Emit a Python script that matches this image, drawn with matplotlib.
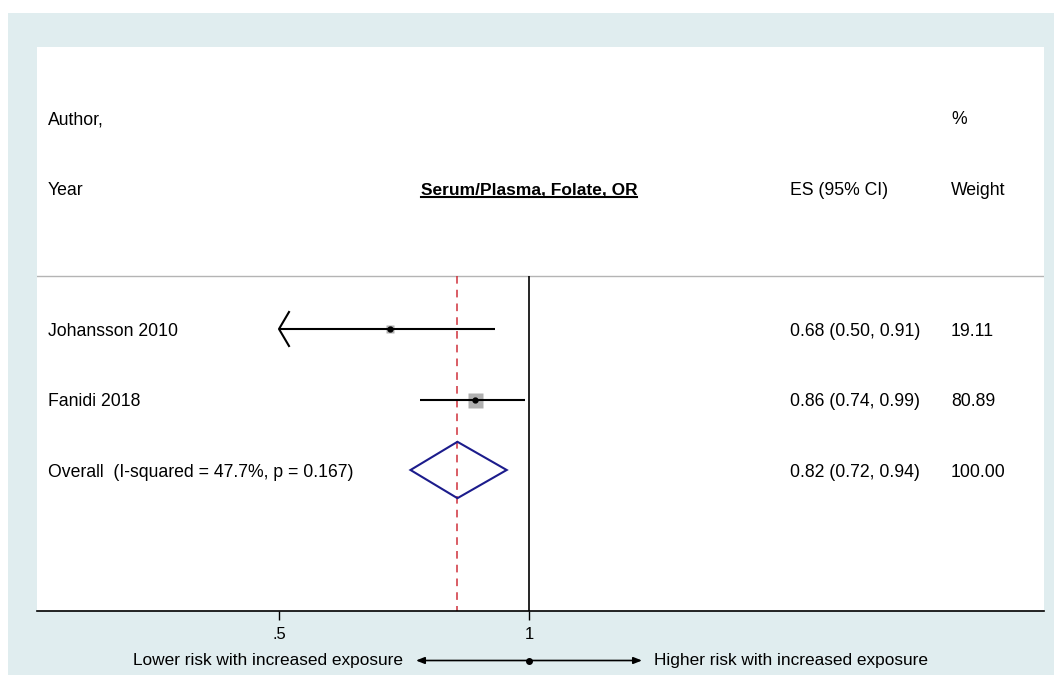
import matplotlib
matplotlib.use('Agg')
import matplotlib.pyplot as plt
import numpy as np
from matplotlib.patches import Rectangle, Polygon
from matplotlib import font_manager
import matplotlib.transforms as mtransforms

# ---------------- data ----------------
studies = ["Johansson 2010", "Fanidi 2018"]
es = [0.68, 0.86]
ci_lo = [0.50, 0.74]
ci_hi = [0.91, 0.99]
weights = [19.11, 80.89]
es_text = ["0.68 (0.50, 0.91)", "0.86 (0.74, 0.99)"]
weight_text = ["19.11", "80.89"]

overall_label = "Overall  (I-squared = 47.7%, p = 0.167)"
overall_es = 0.82
overall_lo = 0.72
overall_hi = 0.94
overall_es_text = "0.82 (0.72, 0.94)"
overall_weight_text = "100.00"

title = "Serum/Plasma, Folate, OR"
xticks = [0.5, 1]
xticklabels = [".5", "1"]
left_label = "Lower risk with increased exposure"
right_label = "Higher risk with increased exposure"

# ---------------- fonts ----------------
def has_font(name):
    try:
        font_manager.findfont(font_manager.FontProperties(family=name), fallback_to_default=False)
        return True
    except Exception:
        return False

main_font = 'Liberation Sans' if has_font('Liberation Sans') else 'DejaVu Sans'
plt.rcParams['font.family'] = main_font

W, H = 1054, 675
fig = plt.figure(figsize=(W / 100, H / 100), dpi=100)
fig.patch.set_facecolor('white')
bg = Rectangle((8 / W, 0), (W - 8) / W, (H - 13) / H, transform=fig.transFigure,
               facecolor='#e0edef', edgecolor='none', zorder=-10)
fig.patches.append(bg)

# plot region
ax_left, ax_right, ax_top, ax_bottom = 37, 1044, 47, 611
ax = fig.add_axes([ax_left / W, (H - ax_bottom) / H, (ax_right - ax_left) / W, (ax_bottom - ax_top) / H])
ax.set_zorder(1)
ax.set_facecolor('white')
px_per_ln = 250 / np.log(2)
x_null_px = 529
ax.set_xscale('log')
ax.set_xlim(np.exp((ax_left - x_null_px) / px_per_ln), np.exp((ax_right - x_null_px) / px_per_ln))
ax.set_ylim(4, -4)

for s in ['top', 'left', 'right']:
    ax.spines[s].set_visible(False)
ax.spines['bottom'].set_linewidth(1.2)
ax.spines['bottom'].set_color('black')
ax.set_xticks(xticks)
ax.set_xticklabels(xticklabels, fontsize=12)
ax.xaxis.set_minor_locator(matplotlib.ticker.NullLocator())
ax.tick_params(axis='x', length=6.5, width=1, pad=5, colors='black')
ax.set_yticks([])

ytr = ax.get_yaxis_transform()
fs = 12.7
ty = 0.035  # small baseline shift of text rows
col_label = (48 - ax_left) / (ax_right - ax_left)
col_es = (790 - ax_left) / (ax_right - ax_left)
col_w = (951 - ax_left) / (ax_right - ax_left)

# headers
ax.text(col_label, -3 + ty, "Author,", transform=ytr, fontsize=fs, va='center', ha='left')
ax.text(col_label, -2 + ty, "Year", transform=ytr, fontsize=fs, va='center', ha='left')
ax.text(col_w, -3 + ty, "%", transform=ytr, fontsize=fs, va='center', ha='left')
ax.text(col_w, -2 + ty, "Weight", transform=ytr, fontsize=fs, va='center', ha='left')
ax.text(col_es, -2 + ty, "ES (95% CI)", transform=ytr, fontsize=fs, va='center', ha='left')
ttl = ax.text(1, -2 + ty, title, fontsize=12.5, fontweight='bold', va='center', ha='center')

# separator line
sep_y = -0.75
ax.axhline(sep_y, color='#b4b4b4', lw=1)

# null line and overall line
ax.vlines(1, sep_y, 4, color='black', lw=1.2, zorder=2)
ax.vlines(overall_es, sep_y, 4, color='#d0303a', lw=1.1, linestyles=[(0, (5, 4))], zorder=2)

forest_min = 0.5
box_scale = 10.8 / np.sqrt(max(weights))
for i, (name, e, l, h, w) in enumerate(zip(studies, es, ci_lo, ci_hi, weights)):
    y = i
    ax.text(col_label, y + ty, name, transform=ytr, fontsize=fs, va='center', ha='left')
    ax.text(col_es, y + ty, es_text[i], transform=ytr, fontsize=fs, va='center', ha='left')
    ax.text(col_w, y + ty, weight_text[i], transform=ytr, fontsize=fs, va='center', ha='left')
    ax.plot([e], [y], marker='s', ms=box_scale * np.sqrt(w), color='#b0b0b0', mec='none', zorder=3)
    start = max(l, forest_min)
    ax.plot([start, h], [y, y], color='black', lw=1.5, zorder=4, solid_capstyle='butt')
    if l <= forest_min:
        arm_x = start * np.exp(10 / px_per_ln)
        arm_y = 17 / 70.5
        ax.plot([arm_x, start, arm_x], [y - arm_y, y, y + arm_y], color='black', lw=1.5, zorder=4)
    ax.plot([e], [y], marker='o', ms=3.5, color='black', zorder=5)

# overall
yo = len(studies)
ax.text(col_label, yo + ty, overall_label, transform=ytr, fontsize=fs, va='center', ha='left')
ax.text(col_es, yo + ty, overall_es_text, transform=ytr, fontsize=fs, va='center', ha='left')
ax.text(col_w, yo + ty, overall_weight_text, transform=ytr, fontsize=fs, va='center', ha='left')
dh = 0.4
diamond = Polygon([(overall_lo, yo), (overall_es, yo - dh), (overall_hi, yo), (overall_es, yo + dh)],
                  closed=True, facecolor='none', edgecolor='#1c1c8c', lw=1.5, zorder=4)
ax.add_patch(diamond)

# title underline
fig.canvas.draw()
bb = ttl.get_window_extent(renderer=fig.canvas.get_renderer())
ul_y = bb.y0 + 1
ax.plot([bb.x0, bb.x1], [ul_y, ul_y], color='black', lw=1.5, transform=None, clip_on=False)

# bottom arrow annotation
btr = mtransforms.blended_transform_factory(ax.transData, fig.transFigure)
yb = (H - 660.5) / H
arrow_kw = dict(arrowstyle='<|-,head_length=0.5,head_width=0.2', color='black', lw=1.2,
                shrinkA=0, shrinkB=0)
for dx in (-113, 113):
    ax.annotate('', xy=(1, yb), xycoords=btr, xytext=(dx, 0), textcoords='offset pixels',
                arrowprops=arrow_kw, annotation_clip=False)
ax.plot([1], [yb], marker='o', ms=4, color='black', transform=btr, clip_on=False)
ax.annotate(left_label, xy=(1, yb), xycoords=btr, xytext=(-126, 0), textcoords='offset pixels',
            fontsize=12.4, ha='right', va='center', annotation_clip=False)
ax.annotate(right_label, xy=(1, yb), xycoords=btr, xytext=(125, 0), textcoords='offset pixels',
            fontsize=12.4, ha='left', va='center', annotation_clip=False)

fig.savefig('out.png', dpi=100, facecolor=fig.get_facecolor())
